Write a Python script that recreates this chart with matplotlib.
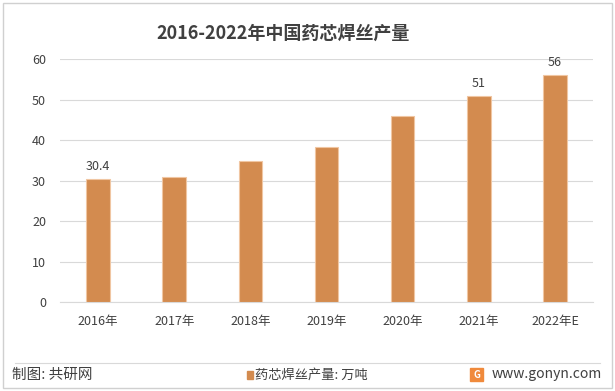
import matplotlib
matplotlib.use("Agg")
import matplotlib.pyplot as plt
from matplotlib.patches import Rectangle
from matplotlib.lines import Line2D

plt.rcParams['font.family'] = ['Noto Sans CJK SC', 'DejaVu Sans']

years = ['2016年', '2017年', '2018年', '2019年', '2020年', '2021年', '2022年E']
output = [30.4, 30.9, 34.8, 38.3, 45.9, 51, 56]
shown_labels = {0: '30.4', 5: '51', 6: '56'}
yticks = [0, 10, 20, 30, 40, 50, 60]

bar_color = '#D38B4F'
text_color = '#404040'
grid_color = '#D9D9D9'

fig = plt.figure(figsize=(6.15, 3.91), dpi=100)
fig.patch.set_facecolor('white')

ax = fig.add_axes([60 / 615, 1 - 302 / 391, 533 / 615, (302 - 59.3) / 391])
x = range(len(years))
bars = ax.bar(x, output, width=0.31, color=bar_color, edgecolor='#F0C6A2',
              linewidth=0.8, zorder=3)

for i, txt in shown_labels.items():
    ax.text(i, output[i] + 1.5, txt, ha='center', va='bottom',
            fontsize=9, color=text_color)

ax.set_xlim(-0.5, len(years) - 0.5)
ax.set_ylim(0, 60)
ax.set_yticks(yticks)
ax.set_xticks(list(x))
ax.set_xticklabels(years)
ax.tick_params(axis='y', length=0, pad=10, labelsize=9, labelcolor=text_color)
ax.tick_params(axis='x', length=0, pad=9, labelsize=9, labelcolor=text_color)
ax.grid(axis='y', color=grid_color, linewidth=0.8, zorder=0)
for s in ['left', 'right', 'top']:
    ax.spines[s].set_visible(False)
ax.spines['bottom'].set_color(grid_color)

fig.text(283 / 615, 1 - 33 / 391, '2016-2022年中国药芯焊丝产量', ha='center',
         va='center', fontsize=13, fontweight='bold', color=text_color)

# outer frame and footer
fig.add_artist(Rectangle((3 / 615, 3 / 391), 609 / 615, 385 / 391,
                         transform=fig.transFigure, fill=False,
                         edgecolor='#D0D0D0', linewidth=1))
fig.add_artist(Line2D([15 / 615, 600 / 615], [1 - 363 / 391, 1 - 363 / 391],
                      transform=fig.transFigure, color='#D9D9D9', linewidth=0.8))
fig.text(12 / 615, 1 - 375 / 391, '制图: 共研网', ha='left', va='center',
         fontsize=10.5, color=text_color)
fig.add_artist(Rectangle((247 / 615, 1 - 379 / 391), 6 / 615, 8 / 391,
                         transform=fig.transFigure, color=bar_color))
fig.text(255 / 615, 1 - 375 / 391, '药芯焊丝产量: 万吨', ha='left', va='center',
         fontsize=9.5, color=text_color)
fig.add_artist(Rectangle((470 / 615, 1 - 381 / 391), 13 / 615, 13 / 391,
                         transform=fig.transFigure, color='#F08A3C'))
fig.text(476.5 / 615, 1 - 374.5 / 391, 'G', ha='center', va='center',
         fontsize=7, fontweight='bold', color='white')
fig.text(492 / 615, 1 - 374 / 391, 'www.gonyn.com', ha='left', va='center',
         fontsize=10, color=text_color)

fig.savefig('out.png', dpi=100)
